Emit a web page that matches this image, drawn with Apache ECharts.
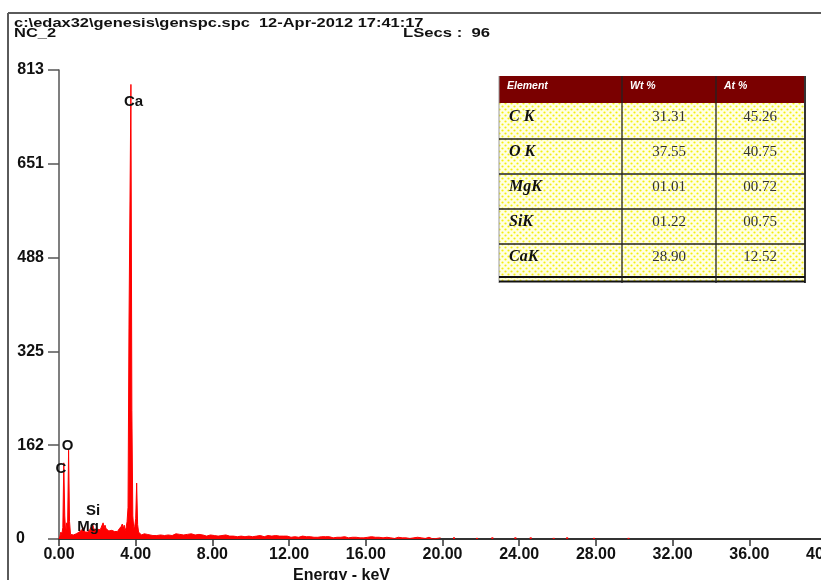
<!DOCTYPE html>
<html><head><meta charset="utf-8">
<script src="https://cdn.jsdelivr.net/npm/echarts@6/dist/echarts.min.js"></script>
<style>html,body{margin:0;padding:0;background:#fff}#c{width:821px;height:580px}</style>
</head><body><div id="c"></div><script>
// Spectrum channels 0.00 - 4.95 keV, 0.05 keV wide
const chStartA = 0.0, chStepA = 0.05;
const countsA = [
  0,5,12,8,20,132,40,10,28,24,
  154,30,8,6,9,7,10,8,9,11,
  8,12,10,13,16,20,17,12,11,13,
  12,14,16,19,22,26,20,16,14,15,
  17,14,18,16,20,22,28,20,24,18,
  15,17,14,16,13,15,12,14,13,12,
  15,13,14,18,16,22,26,18,24,14,
  20,30,55,371,371,788,223,40,18,22,
  35,97,25,12,9,11,7,10,8,9,
  7,10,8,6,9,7,8,10,6,9
];
// Spectrum channels 5.0 - 19.9 keV, 0.1 keV wide
const chStartB = 5.0, chStepB = 0.1;
const countsB = [
  8,6,9,7,10,6,8,7,9,6,
  7,9,6,8,11,7,6,8,7,9,
  6,7,5,8,6,7,9,5,6,7,
  5,6,8,5,7,6,5,7,6,5,
  6,5,7,4,6,5,6,4,7,5,
  5,4,6,5,4,6,5,4,5,6,
  4,5,4,6,4,5,3,5,4,5,
  4,3,5,4,6,3,4,5,3,4,
  3,4,5,3,4,3,5,4,3,4,
  3,4,3,2,4,3,5,3,2,4,
  3,2,4,3,2,3,4,2,3,2,
  2,3,2,4,2,3,2,3,4,2,
  2,3,2,2,3,1,2,3,2,2,
  1,2,3,1,2,2,1,3,1,2,
  2,1,1,3,1,0,2,1,0,2
];
// isolated counts beyond 20 keV
const sparseEnergy = [20.6,21.8,22.6,23.8,24.6,25.8,26.5,27.9,29.7];
const sparseCounts = [3,2,3,3,3,2,3,2,2];

const yTickLabels = ['0','162','325','488','651','813'];
const peakNames = ['Ca','O','C','Si','Mg'];
const peakEnergy = [3.885,0.443,0.104,1.773,1.513];
const peakCount = [758,161,121,48.5,20.8];

const tableHeader = ['Element','Wt %','At %'];
const tableElements = ['C K','O K','MgK','SiK','CaK'];
const tableWt = ['31.31','37.55','01.01','01.22','28.90'];
const tableAt = ['45.26','40.75','00.72','00.75','12.52'];

const spectrum = countsA.map((v,i)=>[+(chStartA+i*chStepA).toFixed(2), v])
  .concat(countsB.map((v,i)=>[+(chStartB+i*chStepB).toFixed(2), v]));
const sparse = sparseEnergy.map((e,i)=>[e, sparseCounts[i]]);
const peaks = peakNames.map((n,i)=>({name:n, value:[peakEnergy[i], peakCount[i]]}));

// dotted yellow pattern for table body
const pc = document.createElement('canvas');
pc.width = 6; pc.height = 6;
const pctx = pc.getContext('2d');
pctx.fillStyle = '#ffffe4'; pctx.fillRect(0,0,6,6);
pctx.fillStyle = '#f4ee10';
pctx.beginPath(); pctx.arc(1.5,1.5,1.1,0,Math.PI*2); pctx.fill();
pctx.beginPath(); pctx.arc(4.5,4.5,1.1,0,Math.PI*2); pctx.fill();

const TX = 499, TR = 805, TTOP = 76, THB = 103;
const rowLines = [139,174,209,244];
const rowCenters = [117,152,187,222,257];
const colX = [622,716];
const g = [];
g.push({type:'rect', shape:{x:TX,y:THB,width:TR-TX,height:178}, style:{fill:{image:pc, repeat:'repeat'}}});
g.push({type:'rect', shape:{x:TX,y:TTOP,width:TR-TX,height:THB-TTOP}, style:{fill:'#7a0000'}});
g.push({type:'line', shape:{x1:TX,y1:TTOP,x2:TX,y2:283}, style:{stroke:'#9a9a9a',lineWidth:1}});
g.push({type:'line', shape:{x1:TR,y1:TTOP,x2:TR,y2:283}, style:{stroke:'#333',lineWidth:2}});
rowLines.forEach(y=>g.push({type:'line', shape:{x1:TX,y1:y,x2:TR,y2:y}, style:{stroke:'#222',lineWidth:1.3}}));
g.push({type:'line', shape:{x1:TX,y1:277,x2:TR,y2:277}, style:{stroke:'#111',lineWidth:2}});
g.push({type:'line', shape:{x1:TX,y1:281.5,x2:TR,y2:281.5}, style:{stroke:'#111',lineWidth:2}});
colX.forEach(x=>g.push({type:'line', shape:{x1:x,y1:TTOP,x2:x,y2:283}, style:{stroke:'#222',lineWidth:1.3}}));
const hx = [507,630,724];
tableHeader.forEach((t,i)=>g.push({type:'text', x:hx[i], y:86, style:{text:t, fill:'#fff', font:'italic bold 10.5px "Liberation Sans", Arial', textVerticalAlign:'middle'}}));
tableElements.forEach((t,i)=>{
  g.push({type:'text', x:509, y:rowCenters[i], style:{text:t, fill:'#111', font:'italic bold 16px "Liberation Serif", serif', textVerticalAlign:'middle'}});
  g.push({type:'text', x:669, y:rowCenters[i], style:{text:tableWt[i], fill:'#333', font:'15px "Liberation Serif", serif', textAlign:'center', textVerticalAlign:'middle'}});
  g.push({type:'text', x:760, y:rowCenters[i], style:{text:tableAt[i], fill:'#333', font:'15px "Liberation Serif", serif', textAlign:'center', textVerticalAlign:'middle'}});
});
// frame and header texts
g.push({type:'line', shape:{x1:8,y1:13,x2:821,y2:13}, style:{stroke:'#5a5a5a',lineWidth:2}});
g.push({type:'line', shape:{x1:8,y1:13,x2:8,y2:580}, style:{stroke:'#5a5a5a',lineWidth:2}});
g.push({type:'text', x:14, y:29.5, scaleX:1.265, style:{text:'c:\\edax32\\genesis\\genspc.spc  12-Apr-2012 17:41:17', fill:'#111', font:'bold 13px "Liberation Sans", Arial', textVerticalAlign:'bottom'}});
g.push({type:'text', x:14, y:39.5, scaleX:1.265, style:{text:'NC_2', fill:'#111', font:'bold 13px "Liberation Sans", Arial', textVerticalAlign:'bottom'}});
g.push({type:'text', x:403, y:39.5, scaleX:1.28, style:{text:'LSecs :  96', fill:'#111', font:'bold 13px "Liberation Sans", Arial', textVerticalAlign:'bottom'}});

const labelFont = {fontFamily:'"Liberation Sans", Arial', fontWeight:'bold', fontSize:16, color:'#111'};
const chart = echarts.init(document.getElementById('c'), null, {renderer:'canvas'});
chart.setOption({
  animation:false,
  backgroundColor:'#fff',
  grid:{left:59, top:70, width:767, height:469, outerBoundsMode:'none', containLabel:false},
  xAxis:{type:'value', min:0, max:40, interval:4,
    axisLine:{onZero:false, lineStyle:{color:'#333', width:2}},
    axisTick:{length:7, lineStyle:{color:'#333', width:1.5}},
    splitLine:{show:false},
    axisLabel:Object.assign({margin:8, formatter:v=>v.toFixed(2), showMaxLabel:true}, labelFont),
    name:'Energy - keV', nameLocation:'middle', nameGap:29,
    nameTextStyle:Object.assign({padding:[0,202,0,0]}, labelFont)
  },
  yAxis:{type:'value', min:0, max:813, interval:162.6, offset:2,
    axisLine:{show:true, lineStyle:{color:'#555', width:1.5}},
    axisTick:{show:true, length:11, lineStyle:{color:'#555', width:1.5}},
    splitLine:{show:false},
    axisLabel:Object.assign({margin:13, formatter:(v,i)=> i===0 ? '{z|0}' : yTickLabels[i],
      rich:{z:Object.assign({padding:[0,19,0,0]}, labelFont)}}, labelFont)
  },
  series:[
    {type:'line', data:spectrum, showSymbol:false, symbol:'none',
     lineStyle:{color:'#ff0000', width:1}, areaStyle:{color:'#ff0000', opacity:1}, z:2},
    {type:'bar', data:sparse, barWidth:2, itemStyle:{color:'#ff0000'}, z:2},
    {type:'scatter', data:peaks, symbolSize:0, z:5, itemStyle:{color:'transparent', opacity:1},
     label:Object.assign({show:true, position:'inside', formatter:p=>p.name, textBorderWidth:0}, labelFont, {fontSize:15, color:'#111'})}
  ],
  graphic:g
});
</script></body></html>
